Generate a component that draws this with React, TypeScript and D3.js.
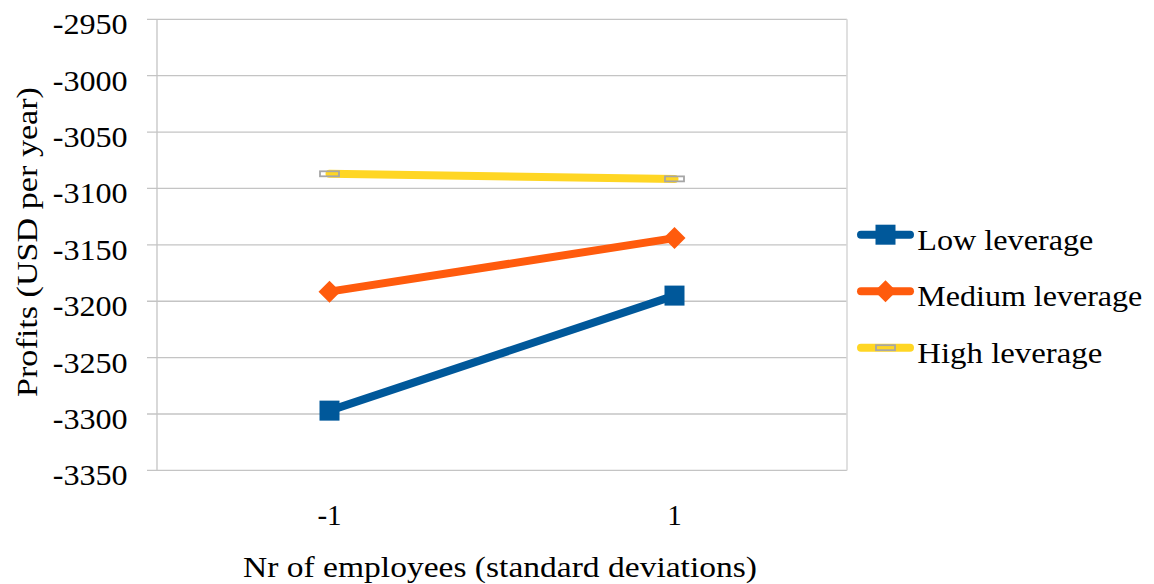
import React from "react";
import * as d3 from "d3";

const categories = ["-1", "1"];
const yTicks = [-2950, -3000, -3050, -3100, -3150, -3200, -3250, -3300, -3350];
const lowLeverage = [-3297, -3195];
const mediumLeverage = [-3191.5, -3144];
const highLeverage = [-3087, -3091.5];

const seriesNames = ["Low leverage", "Medium leverage", "High leverage"];
const seriesValues = [lowLeverage, mediumLeverage, highLeverage];
const seriesColors = ["#00589a", "#ff5b0d", "#ffd624"];
const seriesMarkers = ["square", "diamond", "bar"];
const legendTextWidths = [176, 225, 185];

const W = 1154;
const H = 584;
const FONT = "'Liberation Serif', 'Times New Roman', serif";
const textStyle = { fontFamily: FONT, fontSize: 29, fill: "#000" };

function Marker({ type, x, y }: { type: string; x: number; y: number }) {
  if (type === "square") {
    return <rect x={x - 10} y={y - 10} width={20} height={20} fill="#00589a" />;
  }
  if (type === "diamond") {
    const r = 11;
    return (
      <path
        d={`M${x - r},${y} L${x},${y - r} L${x + r},${y} L${x},${y + r} Z`}
        fill="#ff5b0d"
      />
    );
  }
  return (
    <rect x={x - 9.5} y={y - 2.5} width={19} height={5} fill="none" stroke="#a6a6a6" strokeWidth={1.8} />
  );
}

export default function App() {
  const left = 157;
  const right = 847;
  const top = 19.3;
  const bottom = 470.4;

  const x = d3.scaleBand<string>().domain(categories).range([left, right]);
  const y = d3.scaleLinear().domain([-3350, -2950]).range([bottom, top]);
  const cx = (c: string) => (x(c) as number) + x.bandwidth() / 2;

  const line = d3
    .line<number>()
    .x((_, i) => cx(categories[i]))
    .y((d) => y(d));

  const legendY0 = 234.7;
  const legendStep = 56.5;

  return (
    <svg
      width={W}
      height={H}
      style={{ position: "absolute", left: 0, top: 0, background: "#fff", fontFamily: FONT }}
    >
      {/* gridlines and ticks */}
      {yTicks.map((t) => (
        <g key={t}>
          <line x1={left - 10} x2={right} y1={y(t)} y2={y(t)} stroke="#c4c4c4" strokeWidth={1.3} />
          <text
            x={127.7}
            y={y(t) + 15}
            textAnchor="end"
            style={textStyle}
            textLength={75}
            lengthAdjust="spacingAndGlyphs"
          >
            {t}
          </text>
        </g>
      ))}
      {/* left axis */}
      <line x1={left} x2={left} y1={top} y2={bottom} stroke="#c4c4c4" strokeWidth={1.3} />
      {/* right border */}
      <line x1={right} x2={right} y1={top} y2={bottom} stroke="#d9d9d9" strokeWidth={1.6} />

      {/* x tick labels */}
      {categories.map((c) => (
        <text key={c} x={cx(c)} y={525} textAnchor="middle" style={textStyle}>
          {c}
        </text>
      ))}

      {/* axis titles */}
      <text
        x={500}
        y={577}
        textAnchor="middle"
        style={textStyle}
        textLength={514}
        lengthAdjust="spacingAndGlyphs"
      >
        Nr of employees (standard deviations)
      </text>
      <text
        transform={`translate(37, 242) rotate(-90)`}
        textAnchor="middle"
        style={textStyle}
        textLength={310}
        lengthAdjust="spacingAndGlyphs"
      >
        Profits (USD per year)
      </text>

      {/* series */}
      {seriesValues.map((vals, si) => (
        <g key={seriesNames[si]}>
          <path
            d={line(vals) || ""}
            fill="none"
            stroke={seriesColors[si]}
            strokeWidth={8}
            strokeLinecap="round"
          />
          {vals.map((v, i) => (
            <Marker key={i} type={seriesMarkers[si]} x={cx(categories[i])} y={y(v)} />
          ))}
        </g>
      ))}

      {/* legend */}
      {seriesNames.map((name, si) => {
        const ly = legendY0 + si * legendStep;
        return (
          <g key={name}>
            <line
              x1={861}
              x2={910}
              y1={ly}
              y2={ly}
              stroke={seriesColors[si]}
              strokeWidth={8}
              strokeLinecap="round"
            />
            <Marker type={seriesMarkers[si]} x={885.5} y={ly} />
            <text
              x={917.3}
              y={ly + 15}
              style={textStyle}
              textLength={legendTextWidths[si]}
              lengthAdjust="spacingAndGlyphs"
            >
              {name}
            </text>
          </g>
        );
      })}
    </svg>
  );
}
